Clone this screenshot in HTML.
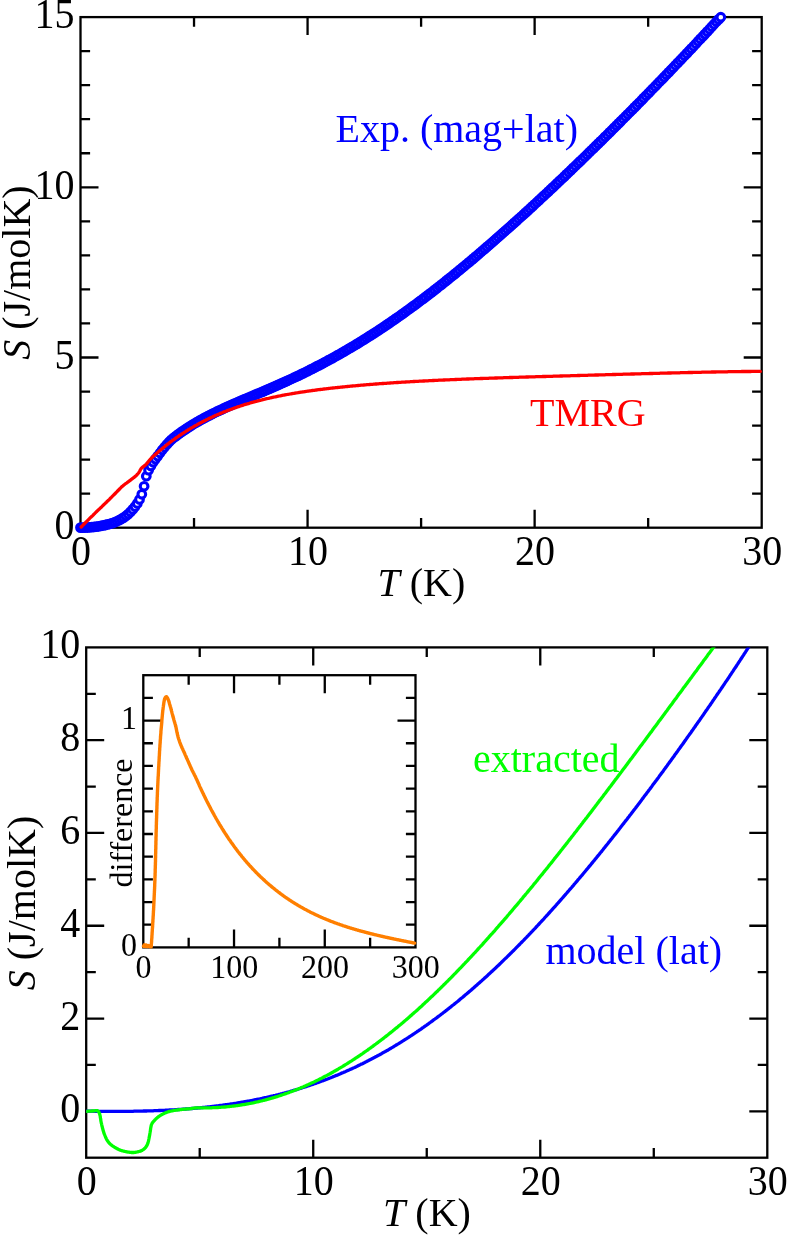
<!DOCTYPE html>
<html><head><meta charset="utf-8"><title>S(T)</title>
<style>html,body{margin:0;padding:0;background:#fff;}svg{display:block;will-change:transform;}body{font-family:"Liberation Serif",serif;}</style></head>
<body>
<svg width="789" height="1237" viewBox="0 0 789 1237" font-family="'Liberation Serif', serif" font-size="40" fill="#000">
<rect width="789" height="1237" fill="#fff"/>
<rect x="80.50" y="17.10" width="681.20" height="510.60" fill="none" stroke="#000" stroke-width="2.3"/>
<path d="M307.57,527.70v-18.00M307.57,17.10v18.00M534.63,527.70v-18.00M534.63,17.10v18.00M194.03,527.70v-9.60M194.03,17.10v9.60M421.10,527.70v-9.60M421.10,17.10v9.60M648.17,527.70v-9.60M648.17,17.10v9.60M80.50,357.50h18.00M761.70,357.50h-18.00M80.50,187.30h18.00M761.70,187.30h-18.00M80.50,493.66h9.60M761.70,493.66h-9.60M80.50,459.62h9.60M761.70,459.62h-9.60M80.50,425.58h9.60M761.70,425.58h-9.60M80.50,391.54h9.60M761.70,391.54h-9.60M80.50,323.46h9.60M761.70,323.46h-9.60M80.50,289.42h9.60M761.70,289.42h-9.60M80.50,255.38h9.60M761.70,255.38h-9.60M80.50,221.34h9.60M761.70,221.34h-9.60M80.50,153.26h9.60M761.70,153.26h-9.60M80.50,119.22h9.60M761.70,119.22h-9.60M80.50,85.18h9.60M761.70,85.18h-9.60M80.50,51.14h9.60M761.70,51.14h-9.60" stroke="#000" stroke-width="2.3" fill="none"/>
<g fill="#fff" stroke="#00f" stroke-width="3.1"><circle cx="80.5" cy="527.6" r="3.85"/><circle cx="82.8" cy="527.6" r="3.85"/><circle cx="85.0" cy="527.5" r="3.85"/><circle cx="87.3" cy="527.5" r="3.85"/><circle cx="89.6" cy="527.3" r="3.85"/><circle cx="91.9" cy="527.1" r="3.85"/><circle cx="94.1" cy="526.9" r="3.85"/><circle cx="96.4" cy="526.6" r="3.85"/><circle cx="98.7" cy="526.3" r="3.85"/><circle cx="100.9" cy="525.9" r="3.85"/><circle cx="103.2" cy="525.4" r="3.85"/><circle cx="105.5" cy="525.0" r="3.85"/><circle cx="107.7" cy="524.4" r="3.85"/><circle cx="110.0" cy="523.8" r="3.85"/><circle cx="112.3" cy="523.1" r="3.85"/><circle cx="114.6" cy="522.3" r="3.85"/><circle cx="116.8" cy="521.3" r="3.85"/><circle cx="119.1" cy="520.2" r="3.85"/><circle cx="121.4" cy="519.0" r="3.85"/><circle cx="123.6" cy="517.6" r="3.85"/><circle cx="125.9" cy="516.0" r="3.85"/><circle cx="128.2" cy="514.1" r="3.85"/><circle cx="130.5" cy="511.9" r="3.85"/><circle cx="132.7" cy="509.4" r="3.85"/><circle cx="135.0" cy="506.6" r="3.85"/><circle cx="137.3" cy="503.4" r="3.85"/><circle cx="139.5" cy="499.5" r="3.85"/><circle cx="141.8" cy="494.3" r="3.85"/><circle cx="144.1" cy="486.3" r="3.85"/><circle cx="146.3" cy="476.2" r="3.85"/><circle cx="148.6" cy="470.2" r="3.85"/><circle cx="150.9" cy="466.0" r="3.85"/><circle cx="153.2" cy="462.3" r="3.85"/><circle cx="155.4" cy="459.1" r="3.85"/><circle cx="157.7" cy="456.1" r="3.85"/><circle cx="160.0" cy="453.0" r="3.85"/><circle cx="162.2" cy="450.0" r="3.85"/><circle cx="164.5" cy="447.2" r="3.85"/><circle cx="166.8" cy="444.5" r="3.85"/><circle cx="169.1" cy="442.0" r="3.85"/><circle cx="171.3" cy="439.8" r="3.85"/><circle cx="173.6" cy="437.8" r="3.85"/><circle cx="175.9" cy="436.1" r="3.85"/><circle cx="178.1" cy="434.4" r="3.85"/><circle cx="180.4" cy="432.7" r="3.85"/><circle cx="182.7" cy="431.1" r="3.85"/><circle cx="185.0" cy="429.6" r="3.85"/><circle cx="187.2" cy="428.1" r="3.85"/><circle cx="189.5" cy="426.6" r="3.85"/><circle cx="191.8" cy="425.2" r="3.85"/><circle cx="194.0" cy="423.8" r="3.85"/><circle cx="196.3" cy="422.5" r="3.85"/><circle cx="198.6" cy="421.2" r="3.85"/><circle cx="200.8" cy="419.9" r="3.85"/><circle cx="203.1" cy="418.7" r="3.85"/><circle cx="205.4" cy="417.4" r="3.85"/><circle cx="207.7" cy="416.2" r="3.85"/><circle cx="209.9" cy="415.1" r="3.85"/><circle cx="212.2" cy="413.9" r="3.85"/><circle cx="214.5" cy="412.8" r="3.85"/><circle cx="216.7" cy="411.7" r="3.85"/><circle cx="219.0" cy="410.6" r="3.85"/><circle cx="221.3" cy="409.6" r="3.85"/><circle cx="223.6" cy="408.5" r="3.85"/><circle cx="225.8" cy="407.5" r="3.85"/><circle cx="228.1" cy="406.4" r="3.85"/><circle cx="230.4" cy="405.4" r="3.85"/><circle cx="232.6" cy="404.4" r="3.85"/><circle cx="234.9" cy="403.4" r="3.85"/><circle cx="237.2" cy="402.5" r="3.85"/><circle cx="239.4" cy="401.5" r="3.85"/><circle cx="241.7" cy="400.5" r="3.85"/><circle cx="244.0" cy="399.5" r="3.85"/><circle cx="246.3" cy="398.6" r="3.85"/><circle cx="248.5" cy="397.6" r="3.85"/><circle cx="250.8" cy="396.7" r="3.85"/><circle cx="253.1" cy="395.7" r="3.85"/><circle cx="255.3" cy="394.7" r="3.85"/><circle cx="257.6" cy="393.8" r="3.85"/><circle cx="259.9" cy="392.8" r="3.85"/><circle cx="262.2" cy="391.9" r="3.85"/><circle cx="264.4" cy="390.9" r="3.85"/><circle cx="266.7" cy="389.9" r="3.85"/><circle cx="269.0" cy="388.9" r="3.85"/><circle cx="271.2" cy="388.0" r="3.85"/><circle cx="273.5" cy="387.0" r="3.85"/><circle cx="275.8" cy="386.0" r="3.85"/><circle cx="278.0" cy="385.0" r="3.85"/><circle cx="280.3" cy="384.0" r="3.85"/><circle cx="282.6" cy="382.9" r="3.85"/><circle cx="284.9" cy="381.9" r="3.85"/><circle cx="287.1" cy="380.9" r="3.85"/><circle cx="289.4" cy="379.8" r="3.85"/><circle cx="291.7" cy="378.8" r="3.85"/><circle cx="293.9" cy="377.7" r="3.85"/><circle cx="296.2" cy="376.7" r="3.85"/><circle cx="298.5" cy="375.6" r="3.85"/><circle cx="300.8" cy="374.5" r="3.85"/><circle cx="303.0" cy="373.4" r="3.85"/><circle cx="305.3" cy="372.3" r="3.85"/><circle cx="307.6" cy="371.1" r="3.85"/><circle cx="309.8" cy="370.0" r="3.85"/><circle cx="312.1" cy="368.9" r="3.85"/><circle cx="314.4" cy="367.7" r="3.85"/><circle cx="316.6" cy="366.5" r="3.85"/><circle cx="318.9" cy="365.4" r="3.85"/><circle cx="321.2" cy="364.2" r="3.85"/><circle cx="323.5" cy="363.0" r="3.85"/><circle cx="325.7" cy="361.8" r="3.85"/><circle cx="328.0" cy="360.5" r="3.85"/><circle cx="330.3" cy="359.3" r="3.85"/><circle cx="332.5" cy="358.1" r="3.85"/><circle cx="334.8" cy="356.8" r="3.85"/><circle cx="337.1" cy="355.5" r="3.85"/><circle cx="339.4" cy="354.3" r="3.85"/><circle cx="341.6" cy="353.0" r="3.85"/><circle cx="343.9" cy="351.7" r="3.85"/><circle cx="346.2" cy="350.3" r="3.85"/><circle cx="348.4" cy="349.0" r="3.85"/><circle cx="350.7" cy="347.7" r="3.85"/><circle cx="353.0" cy="346.3" r="3.85"/><circle cx="355.3" cy="345.0" r="3.85"/><circle cx="357.5" cy="343.6" r="3.85"/><circle cx="359.8" cy="342.2" r="3.85"/><circle cx="362.1" cy="340.8" r="3.85"/><circle cx="364.3" cy="339.4" r="3.85"/><circle cx="366.6" cy="338.0" r="3.85"/><circle cx="368.9" cy="336.5" r="3.85"/><circle cx="371.1" cy="335.1" r="3.85"/><circle cx="373.4" cy="333.6" r="3.85"/><circle cx="375.7" cy="332.2" r="3.85"/><circle cx="378.0" cy="330.7" r="3.85"/><circle cx="380.2" cy="329.2" r="3.85"/><circle cx="382.5" cy="327.7" r="3.85"/><circle cx="384.8" cy="326.2" r="3.85"/><circle cx="387.0" cy="324.6" r="3.85"/><circle cx="389.3" cy="323.1" r="3.85"/><circle cx="391.6" cy="321.5" r="3.85"/><circle cx="393.9" cy="320.0" r="3.85"/><circle cx="396.1" cy="318.4" r="3.85"/><circle cx="398.4" cy="316.8" r="3.85"/><circle cx="400.7" cy="315.2" r="3.85"/><circle cx="402.9" cy="313.6" r="3.85"/><circle cx="405.2" cy="312.0" r="3.85"/><circle cx="407.5" cy="310.3" r="3.85"/><circle cx="409.7" cy="308.7" r="3.85"/><circle cx="412.0" cy="307.0" r="3.85"/><circle cx="414.3" cy="305.4" r="3.85"/><circle cx="416.6" cy="303.7" r="3.85"/><circle cx="418.8" cy="302.0" r="3.85"/><circle cx="421.1" cy="300.3" r="3.85"/><circle cx="423.4" cy="298.6" r="3.85"/><circle cx="425.6" cy="296.9" r="3.85"/><circle cx="427.9" cy="295.1" r="3.85"/><circle cx="430.2" cy="293.4" r="3.85"/><circle cx="432.5" cy="291.7" r="3.85"/><circle cx="434.7" cy="289.9" r="3.85"/><circle cx="437.0" cy="288.1" r="3.85"/><circle cx="439.3" cy="286.3" r="3.85"/><circle cx="441.5" cy="284.6" r="3.85"/><circle cx="443.8" cy="282.8" r="3.85"/><circle cx="446.1" cy="280.9" r="3.85"/><circle cx="448.3" cy="279.1" r="3.85"/><circle cx="450.6" cy="277.3" r="3.85"/><circle cx="452.9" cy="275.5" r="3.85"/><circle cx="455.2" cy="273.6" r="3.85"/><circle cx="457.4" cy="271.8" r="3.85"/><circle cx="459.7" cy="269.9" r="3.85"/><circle cx="462.0" cy="268.0" r="3.85"/><circle cx="464.2" cy="266.2" r="3.85"/><circle cx="466.5" cy="264.3" r="3.85"/><circle cx="468.8" cy="262.4" r="3.85"/><circle cx="471.1" cy="260.5" r="3.85"/><circle cx="473.3" cy="258.6" r="3.85"/><circle cx="475.6" cy="256.6" r="3.85"/><circle cx="477.9" cy="254.7" r="3.85"/><circle cx="480.1" cy="252.8" r="3.85"/><circle cx="482.4" cy="250.8" r="3.85"/><circle cx="484.7" cy="248.9" r="3.85"/><circle cx="486.9" cy="246.9" r="3.85"/><circle cx="489.2" cy="245.0" r="3.85"/><circle cx="491.5" cy="243.0" r="3.85"/><circle cx="493.8" cy="241.0" r="3.85"/><circle cx="496.0" cy="239.0" r="3.85"/><circle cx="498.3" cy="237.0" r="3.85"/><circle cx="500.6" cy="235.0" r="3.85"/><circle cx="502.8" cy="233.0" r="3.85"/><circle cx="505.1" cy="231.0" r="3.85"/><circle cx="507.4" cy="229.0" r="3.85"/><circle cx="509.7" cy="227.0" r="3.85"/><circle cx="511.9" cy="225.0" r="3.85"/><circle cx="514.2" cy="222.9" r="3.85"/><circle cx="516.5" cy="220.9" r="3.85"/><circle cx="518.7" cy="218.8" r="3.85"/><circle cx="521.0" cy="216.8" r="3.85"/><circle cx="523.3" cy="214.7" r="3.85"/><circle cx="525.6" cy="212.6" r="3.85"/><circle cx="527.8" cy="210.6" r="3.85"/><circle cx="530.1" cy="208.5" r="3.85"/><circle cx="532.4" cy="206.4" r="3.85"/><circle cx="534.6" cy="204.3" r="3.85"/><circle cx="536.9" cy="202.2" r="3.85"/><circle cx="539.2" cy="200.1" r="3.85"/><circle cx="541.4" cy="198.0" r="3.85"/><circle cx="543.7" cy="195.9" r="3.85"/><circle cx="546.0" cy="193.8" r="3.85"/><circle cx="548.3" cy="191.6" r="3.85"/><circle cx="550.5" cy="189.5" r="3.85"/><circle cx="552.8" cy="187.4" r="3.85"/><circle cx="555.1" cy="185.2" r="3.85"/><circle cx="557.3" cy="183.1" r="3.85"/><circle cx="559.6" cy="180.9" r="3.85"/><circle cx="561.9" cy="178.8" r="3.85"/><circle cx="564.2" cy="176.6" r="3.85"/><circle cx="566.4" cy="174.4" r="3.85"/><circle cx="568.7" cy="172.3" r="3.85"/><circle cx="571.0" cy="170.1" r="3.85"/><circle cx="573.2" cy="167.9" r="3.85"/><circle cx="575.5" cy="165.7" r="3.85"/><circle cx="577.8" cy="163.5" r="3.85"/><circle cx="580.0" cy="161.4" r="3.85"/><circle cx="582.3" cy="159.2" r="3.85"/><circle cx="584.6" cy="157.0" r="3.85"/><circle cx="586.9" cy="154.7" r="3.85"/><circle cx="589.1" cy="152.5" r="3.85"/><circle cx="591.4" cy="150.3" r="3.85"/><circle cx="593.7" cy="148.1" r="3.85"/><circle cx="595.9" cy="145.9" r="3.85"/><circle cx="598.2" cy="143.6" r="3.85"/><circle cx="600.5" cy="141.4" r="3.85"/><circle cx="602.8" cy="139.2" r="3.85"/><circle cx="605.0" cy="136.9" r="3.85"/><circle cx="607.3" cy="134.7" r="3.85"/><circle cx="609.6" cy="132.4" r="3.85"/><circle cx="611.8" cy="130.2" r="3.85"/><circle cx="614.1" cy="127.9" r="3.85"/><circle cx="616.4" cy="125.6" r="3.85"/><circle cx="618.6" cy="123.4" r="3.85"/><circle cx="620.9" cy="121.1" r="3.85"/><circle cx="623.2" cy="118.8" r="3.85"/><circle cx="625.5" cy="116.5" r="3.85"/><circle cx="627.7" cy="114.3" r="3.85"/><circle cx="630.0" cy="112.0" r="3.85"/><circle cx="632.3" cy="109.7" r="3.85"/><circle cx="634.5" cy="107.4" r="3.85"/><circle cx="636.8" cy="105.1" r="3.85"/><circle cx="639.1" cy="102.8" r="3.85"/><circle cx="641.4" cy="100.5" r="3.85"/><circle cx="643.6" cy="98.1" r="3.85"/><circle cx="645.9" cy="95.8" r="3.85"/><circle cx="648.2" cy="93.5" r="3.85"/><circle cx="650.4" cy="91.2" r="3.85"/><circle cx="652.7" cy="88.8" r="3.85"/><circle cx="655.0" cy="86.5" r="3.85"/><circle cx="657.2" cy="84.2" r="3.85"/><circle cx="659.5" cy="81.8" r="3.85"/><circle cx="661.8" cy="79.5" r="3.85"/><circle cx="664.1" cy="77.1" r="3.85"/><circle cx="666.3" cy="74.8" r="3.85"/><circle cx="668.6" cy="72.4" r="3.85"/><circle cx="670.9" cy="70.0" r="3.85"/><circle cx="673.1" cy="67.7" r="3.85"/><circle cx="675.4" cy="65.3" r="3.85"/><circle cx="677.7" cy="62.9" r="3.85"/><circle cx="680.0" cy="60.5" r="3.85"/><circle cx="682.2" cy="58.2" r="3.85"/><circle cx="684.5" cy="55.8" r="3.85"/><circle cx="686.8" cy="53.4" r="3.85"/><circle cx="689.0" cy="51.0" r="3.85"/><circle cx="691.3" cy="48.6" r="3.85"/><circle cx="693.6" cy="46.2" r="3.85"/><circle cx="695.9" cy="43.8" r="3.85"/><circle cx="698.1" cy="41.3" r="3.85"/><circle cx="700.4" cy="38.9" r="3.85"/><circle cx="702.7" cy="36.5" r="3.85"/><circle cx="704.9" cy="34.1" r="3.85"/><circle cx="707.2" cy="31.6" r="3.85"/><circle cx="709.5" cy="29.2" r="3.85"/><circle cx="711.7" cy="26.7" r="3.85"/><circle cx="714.0" cy="24.3" r="3.85"/><circle cx="716.3" cy="21.8" r="3.85"/><circle cx="718.6" cy="19.4" r="3.85"/><circle cx="720.8" cy="17.2" r="3.85"/></g>
<path d="M81.2,527.0 L82.2,526.0 L83.1,525.0 L84.1,524.0 L85.1,523.0 L86.1,522.1 L87.0,521.1 L88.0,520.1 L89.0,519.1 L89.9,518.2 L90.9,517.2 L91.9,516.3 L92.9,515.3 L93.8,514.3 L94.8,513.4 L95.8,512.4 L96.7,511.5 L97.7,510.6 L98.7,509.6 L99.7,508.7 L100.6,507.8 L101.6,506.9 L102.6,505.9 L103.5,505.0 L104.5,504.1 L105.5,503.1 L106.5,502.2 L107.4,501.2 L108.4,500.3 L109.4,499.3 L110.3,498.3 L111.3,497.4 L112.3,496.4 L113.3,495.4 L114.2,494.5 L115.2,493.5 L116.2,492.5 L117.1,491.5 L118.1,490.5 L119.1,489.5 L120.1,488.5 L121.0,487.5 L122.0,486.6 L123.0,485.8 L123.9,485.0 L124.9,484.2 L125.9,483.5 L126.9,482.8 L127.8,482.1 L128.8,481.4 L129.8,480.7 L130.7,479.9 L131.7,479.2 L132.7,478.4 L133.7,477.7 L134.6,476.9 L135.6,476.1 L136.6,475.2 L137.5,474.2 L138.5,473.0 L139.5,471.6 L140.5,469.6 L141.4,468.2 L142.4,467.4 L143.4,466.6 L144.3,465.9 L145.3,465.1 L146.3,464.1 L147.3,462.9 L148.2,461.7 L149.2,460.5 L150.2,459.4 L151.2,458.3 L152.1,457.4 L153.1,456.5 L154.1,455.6 L155.0,454.7 L156.0,453.9 L157.0,453.0 L158.0,452.2 L158.9,451.3 L159.9,450.5 L160.9,449.7 L161.8,448.9 L162.8,448.1 L163.8,447.3 L164.8,446.5 L165.7,445.7 L166.7,444.9 L167.7,444.2 L168.6,443.4 L169.6,442.7 L170.6,441.9 L171.6,441.2 L172.5,440.5 L173.5,439.8 L174.5,439.1 L175.4,438.4 L176.4,437.7 L177.4,437.0 L178.4,436.3 L179.3,435.7 L180.3,435.0 L181.3,434.4 L182.2,433.7 L183.2,433.1 L184.2,432.4 L185.2,431.8 L186.1,431.2 L187.1,430.6 L188.1,430.0 L189.0,429.4 L190.0,428.8 L191.0,428.2 L192.0,427.6 L192.9,427.1 L193.9,426.5 L194.9,425.9 L195.8,425.4 L196.8,424.9 L197.8,424.3 L198.8,423.8 L199.7,423.3 L200.7,422.7 L201.7,422.2 L202.6,421.7 L203.6,421.2 L204.6,420.7 L205.6,420.2 L206.5,419.7 L207.5,419.3 L208.5,418.8 L209.4,418.3 L210.4,417.9 L211.4,417.4 L212.4,417.0 L213.3,416.5 L214.3,416.1 L215.3,415.6 L216.2,415.2 L217.2,414.8 L218.2,414.4 L219.2,413.9 L220.1,413.5 L221.1,413.1 L222.1,412.7 L223.0,412.3 L224.0,411.9 L225.0,411.6 L226.0,411.2 L226.9,410.8 L227.9,410.4 L228.9,410.1 L229.8,409.7 L230.8,409.3 L231.8,409.0 L232.8,408.6 L233.7,408.3 L234.7,407.9 L235.7,407.6 L236.6,407.3 L237.6,406.9 L238.6,406.6 L239.6,406.3 L240.5,406.0 L241.5,405.7 L242.5,405.4 L243.4,405.0 L244.4,404.7 L245.4,404.4 L246.4,404.1 L247.3,403.9 L248.3,403.6 L249.3,403.3 L250.2,403.0 L251.2,402.7 L252.2,402.4 L253.2,402.2 L254.1,401.9 L255.1,401.6 L256.1,401.4 L257.0,401.1 L258.0,400.9 L259.0,400.6 L260.0,400.4 L260.9,400.1 L261.9,399.9 L262.9,399.6 L263.8,399.4 L264.8,399.2 L265.8,398.9 L266.8,398.7 L267.7,398.5 L268.7,398.3 L269.7,398.0 L270.6,397.8 L271.6,397.6 L272.6,397.4 L273.6,397.2 L274.5,397.0 L275.5,396.8 L276.5,396.6 L277.4,396.4 L278.4,396.2 L279.4,396.0 L280.4,395.8 L281.3,395.6 L282.3,395.4 L283.3,395.2 L284.2,395.0 L285.2,394.9 L286.2,394.7 L287.2,394.5 L288.1,394.3 L289.1,394.2 L290.1,394.0 L291.1,393.8 L292.0,393.6 L293.0,393.5 L294.0,393.3 L294.9,393.1 L295.9,393.0 L296.9,392.8 L297.9,392.7 L298.8,392.5 L299.8,392.4 L300.8,392.2 L301.7,392.1 L302.7,391.9 L303.7,391.8 L304.7,391.6 L305.6,391.5 L306.6,391.3 L307.6,391.2 L308.5,391.1 L309.5,390.9 L310.5,390.8 L311.5,390.6 L312.4,390.5 L313.4,390.4 L314.4,390.3 L315.3,390.1 L316.3,390.0 L317.3,389.9 L318.3,389.7 L319.2,389.6 L320.2,389.5 L321.2,389.4 L322.1,389.3 L323.1,389.1 L324.1,389.0 L325.1,388.9 L326.0,388.8 L327.0,388.7 L328.0,388.6 L328.9,388.4 L329.9,388.3 L330.9,388.2 L331.9,388.1 L332.8,388.0 L333.8,387.9 L334.8,387.8 L335.7,387.7 L336.7,387.6 L337.7,387.5 L338.7,387.4 L339.6,387.3 L340.6,387.2 L341.6,387.1 L342.5,387.0 L343.5,386.9 L344.5,386.8 L345.5,386.7 L346.4,386.6 L347.4,386.5 L348.4,386.4 L349.3,386.3 L350.3,386.2 L351.3,386.1 L352.3,386.0 L353.2,385.9 L354.2,385.8 L355.2,385.8 L356.1,385.7 L357.1,385.6 L358.1,385.5 L359.1,385.4 L360.0,385.3 L361.0,385.2 L362.0,385.1 L362.9,385.1 L363.9,385.0 L364.9,384.9 L365.9,384.8 L366.8,384.7 L367.8,384.7 L368.8,384.6 L369.7,384.5 L370.7,384.4 L371.7,384.3 L372.7,384.3 L373.6,384.2 L374.6,384.1 L375.6,384.0 L376.5,384.0 L377.5,383.9 L378.5,383.8 L379.5,383.7 L380.4,383.7 L381.4,383.6 L382.4,383.5 L383.3,383.5 L384.3,383.4 L385.3,383.3 L386.3,383.3 L387.2,383.2 L388.2,383.1 L389.2,383.1 L390.1,383.0 L391.1,382.9 L392.1,382.9 L393.1,382.8 L394.0,382.7 L395.0,382.7 L396.0,382.6 L396.9,382.5 L397.9,382.5 L398.9,382.4 L399.9,382.4 L400.8,382.3 L401.8,382.2 L402.8,382.2 L403.7,382.1 L404.7,382.1 L405.7,382.0 L406.7,381.9 L407.6,381.9 L408.6,381.8 L409.6,381.8 L410.5,381.7 L411.5,381.7 L412.5,381.6 L413.5,381.5 L414.4,381.5 L415.4,381.4 L416.4,381.4 L417.3,381.3 L418.3,381.3 L419.3,381.2 L420.3,381.2 L421.2,381.1 L422.2,381.1 L423.2,381.0 L424.2,381.0 L425.1,380.9 L426.1,380.9 L427.1,380.8 L428.0,380.8 L429.0,380.7 L430.0,380.7 L431.0,380.6 L431.9,380.6 L432.9,380.5 L433.9,380.5 L434.8,380.4 L435.8,380.4 L436.8,380.3 L437.8,380.3 L438.7,380.2 L439.7,380.2 L440.7,380.2 L441.6,380.1 L442.6,380.1 L443.6,380.0 L444.6,380.0 L445.5,379.9 L446.5,379.9 L447.5,379.8 L448.4,379.8 L449.4,379.8 L450.4,379.7 L451.4,379.7 L452.3,379.6 L453.3,379.6 L454.3,379.6 L455.2,379.5 L456.2,379.5 L457.2,379.4 L458.2,379.4 L459.1,379.4 L460.1,379.3 L461.1,379.3 L462.0,379.2 L463.0,379.2 L464.0,379.2 L465.0,379.1 L465.9,379.1 L466.9,379.0 L467.9,379.0 L468.8,379.0 L469.8,378.9 L470.8,378.9 L471.8,378.9 L472.7,378.8 L473.7,378.8 L474.7,378.7 L475.6,378.7 L476.6,378.7 L477.6,378.6 L478.6,378.6 L479.5,378.6 L480.5,378.5 L481.5,378.5 L482.4,378.5 L483.4,378.4 L484.4,378.4 L485.4,378.4 L486.3,378.3 L487.3,378.3 L488.3,378.3 L489.2,378.2 L490.2,378.2 L491.2,378.2 L492.2,378.1 L493.1,378.1 L494.1,378.1 L495.1,378.0 L496.0,378.0 L497.0,378.0 L498.0,377.9 L499.0,377.9 L499.9,377.9 L500.9,377.8 L501.9,377.8 L502.8,377.8 L503.8,377.7 L504.8,377.7 L505.8,377.7 L506.7,377.6 L507.7,377.6 L508.7,377.6 L509.6,377.5 L510.6,377.5 L511.6,377.5 L512.6,377.5 L513.5,377.4 L514.5,377.4 L515.5,377.4 L516.4,377.3 L517.4,377.3 L518.4,377.3 L519.4,377.2 L520.3,377.2 L521.3,377.2 L522.3,377.2 L523.2,377.1 L524.2,377.1 L525.2,377.1 L526.2,377.0 L527.1,377.0 L528.1,377.0 L529.1,376.9 L530.0,376.9 L531.0,376.9 L532.0,376.9 L533.0,376.8 L533.9,376.8 L534.9,376.8 L535.9,376.7 L536.8,376.7 L537.8,376.7 L538.8,376.7 L539.8,376.6 L540.7,376.6 L541.7,376.6 L542.7,376.5 L543.6,376.5 L544.6,376.5 L545.6,376.5 L546.6,376.4 L547.5,376.4 L548.5,376.4 L549.5,376.3 L550.4,376.3 L551.4,376.3 L552.4,376.3 L553.4,376.2 L554.3,376.2 L555.3,376.2 L556.3,376.1 L557.3,376.1 L558.2,376.1 L559.2,376.1 L560.2,376.0 L561.1,376.0 L562.1,376.0 L563.1,375.9 L564.1,375.9 L565.0,375.9 L566.0,375.9 L567.0,375.8 L567.9,375.8 L568.9,375.8 L569.9,375.8 L570.9,375.7 L571.8,375.7 L572.8,375.7 L573.8,375.6 L574.7,375.6 L575.7,375.6 L576.7,375.6 L577.7,375.5 L578.6,375.5 L579.6,375.5 L580.6,375.4 L581.5,375.4 L582.5,375.4 L583.5,375.4 L584.5,375.3 L585.4,375.3 L586.4,375.3 L587.4,375.3 L588.3,375.2 L589.3,375.2 L590.3,375.2 L591.3,375.1 L592.2,375.1 L593.2,375.1 L594.2,375.1 L595.1,375.0 L596.1,375.0 L597.1,375.0 L598.1,375.0 L599.0,374.9 L600.0,374.9 L601.0,374.9 L601.9,374.8 L602.9,374.8 L603.9,374.8 L604.9,374.8 L605.8,374.7 L606.8,374.7 L607.8,374.7 L608.7,374.7 L609.7,374.6 L610.7,374.6 L611.7,374.6 L612.6,374.5 L613.6,374.5 L614.6,374.5 L615.5,374.5 L616.5,374.4 L617.5,374.4 L618.5,374.4 L619.4,374.4 L620.4,374.3 L621.4,374.3 L622.3,374.3 L623.3,374.2 L624.3,374.2 L625.3,374.2 L626.2,374.2 L627.2,374.1 L628.2,374.1 L629.1,374.1 L630.1,374.1 L631.1,374.0 L632.1,374.0 L633.0,374.0 L634.0,374.0 L635.0,373.9 L635.9,373.9 L636.9,373.9 L637.9,373.8 L638.9,373.8 L639.8,373.8 L640.8,373.8 L641.8,373.7 L642.7,373.7 L643.7,373.7 L644.7,373.7 L645.7,373.6 L646.6,373.6 L647.6,373.6 L648.6,373.6 L649.5,373.5 L650.5,373.5 L651.5,373.5 L652.5,373.5 L653.4,373.4 L654.4,373.4 L655.4,373.4 L656.3,373.4 L657.3,373.3 L658.3,373.3 L659.3,373.3 L660.2,373.2 L661.2,373.2 L662.2,373.2 L663.1,373.2 L664.1,373.1 L665.1,373.1 L666.1,373.1 L667.0,373.1 L668.0,373.0 L669.0,373.0 L669.9,373.0 L670.9,373.0 L671.9,372.9 L672.9,372.9 L673.8,372.9 L674.8,372.9 L675.8,372.9 L676.7,372.8 L677.7,372.8 L678.7,372.8 L679.7,372.8 L680.6,372.7 L681.6,372.7 L682.6,372.7 L683.5,372.7 L684.5,372.6 L685.5,372.6 L686.5,372.6 L687.4,372.6 L688.4,372.5 L689.4,372.5 L690.3,372.5 L691.3,372.5 L692.3,372.5 L693.3,372.4 L694.2,372.4 L695.2,372.4 L696.2,372.4 L697.2,372.3 L698.1,372.3 L699.1,372.3 L700.1,372.3 L701.0,372.3 L702.0,372.2 L703.0,372.2 L704.0,372.2 L704.9,372.2 L705.9,372.2 L706.9,372.1 L707.8,372.1 L708.8,372.1 L709.8,372.1 L710.8,372.1 L711.7,372.0 L712.7,372.0 L713.7,372.0 L714.6,372.0 L715.6,372.0 L716.6,371.9 L717.6,371.9 L718.5,371.9 L719.5,371.9 L720.5,371.9 L721.4,371.9 L722.4,371.8 L723.4,371.8 L724.4,371.8 L725.3,371.8 L726.3,371.8 L727.3,371.8 L728.2,371.7 L729.2,371.7 L730.2,371.7 L731.2,371.7 L732.1,371.7 L733.1,371.7 L734.1,371.7 L735.0,371.6 L736.0,371.6 L737.0,371.6 L738.0,371.6 L738.9,371.6 L739.9,371.6 L740.9,371.6 L741.8,371.5 L742.8,371.5 L743.8,371.5 L744.8,371.5 L745.7,371.5 L746.7,371.5 L747.7,371.5 L748.6,371.5 L749.6,371.5 L750.6,371.5 L751.6,371.4 L752.5,371.4 L753.5,371.4 L754.5,371.4 L755.4,371.4 L756.4,371.4 L757.4,371.4 L758.4,371.4 L759.3,371.4 L760.3,371.4" fill="none" stroke="#f00" stroke-width="3.3" stroke-linejoin="round" stroke-linecap="round"/>
<rect x="86.20" y="647.40" width="681.10" height="510.30" fill="none" stroke="#000" stroke-width="2.3"/>
<path d="M313.23,1157.70v-18.00M313.23,647.40v18.00M540.27,1157.70v-18.00M540.27,647.40v18.00M199.72,1157.70v-9.60M199.72,647.40v9.60M426.75,1157.70v-9.60M426.75,647.40v9.60M653.78,1157.70v-9.60M653.78,647.40v9.60M86.20,1111.31h18.00M767.30,1111.31h-18.00M86.20,1018.53h18.00M767.30,1018.53h-18.00M86.20,925.75h18.00M767.30,925.75h-18.00M86.20,832.96h18.00M767.30,832.96h-18.00M86.20,740.18h18.00M767.30,740.18h-18.00M86.20,1064.92h9.60M767.30,1064.92h-9.60M86.20,972.14h9.60M767.30,972.14h-9.60M86.20,879.35h9.60M767.30,879.35h-9.60M86.20,786.57h9.60M767.30,786.57h-9.60M86.20,693.79h9.60M767.30,693.79h-9.60" stroke="#000" stroke-width="2.3" fill="none"/>
<clipPath id="cb"><rect x="86.2" y="647.4" width="681.0999999999999" height="510.30000000000007"/></clipPath>
<g clip-path="url(#cb)" fill="none" stroke-width="3.3" stroke-linejoin="round" stroke-linecap="round">
<path d="M86.3,1111.1 L87.3,1111.1 L88.2,1111.1 L89.2,1111.2 L90.1,1111.2 L91.1,1111.2 L92.0,1111.2 L93.0,1111.2 L93.9,1111.2 L94.9,1111.2 L95.9,1111.3 L96.8,1111.3 L97.8,1111.3 L98.7,1111.3 L99.7,1111.3 L100.6,1111.3 L101.6,1111.3 L102.5,1111.3 L103.5,1111.3 L104.4,1111.4 L105.4,1111.4 L106.4,1111.4 L107.3,1111.4 L108.3,1111.4 L109.2,1111.4 L110.2,1111.4 L111.1,1111.4 L112.1,1111.4 L113.0,1111.4 L114.0,1111.4 L115.0,1111.4 L115.9,1111.4 L116.9,1111.4 L117.8,1111.4 L118.8,1111.4 L119.7,1111.4 L120.7,1111.4 L121.6,1111.4 L122.6,1111.4 L123.6,1111.4 L124.5,1111.4 L125.5,1111.4 L126.4,1111.3 L127.4,1111.3 L128.3,1111.3 L129.3,1111.3 L130.2,1111.3 L131.2,1111.3 L132.2,1111.3 L133.1,1111.3 L134.1,1111.2 L135.0,1111.2 L136.0,1111.2 L136.9,1111.2 L137.9,1111.2 L138.8,1111.2 L139.8,1111.1 L140.7,1111.1 L141.7,1111.1 L142.7,1111.1 L143.6,1111.0 L144.6,1111.0 L145.5,1111.0 L146.5,1111.0 L147.4,1110.9 L148.4,1110.9 L149.3,1110.9 L150.3,1110.9 L151.3,1110.8 L152.2,1110.8 L153.2,1110.8 L154.1,1110.7 L155.1,1110.7 L156.0,1110.6 L157.0,1110.6 L157.9,1110.6 L158.9,1110.5 L159.9,1110.5 L160.8,1110.5 L161.8,1110.4 L162.7,1110.4 L163.7,1110.3 L164.6,1110.3 L165.6,1110.2 L166.5,1110.2 L167.5,1110.1 L168.4,1110.1 L169.4,1110.0 L170.4,1110.0 L171.3,1109.9 L172.3,1109.9 L173.2,1109.8 L174.2,1109.8 L175.1,1109.7 L176.1,1109.6 L177.0,1109.6 L178.0,1109.5 L179.0,1109.5 L179.9,1109.4 L180.9,1109.3 L181.8,1109.3 L182.8,1109.2 L183.7,1109.1 L184.7,1109.1 L185.6,1109.0 L186.6,1108.9 L187.6,1108.8 L188.5,1108.8 L189.5,1108.7 L190.4,1108.6 L191.4,1108.5 L192.3,1108.5 L193.3,1108.4 L194.2,1108.3 L195.2,1108.2 L196.2,1108.1 L197.1,1108.0 L198.1,1107.9 L199.0,1107.9 L200.0,1107.8 L200.9,1107.7 L201.9,1107.6 L202.8,1107.5 L203.8,1107.4 L204.7,1107.3 L205.7,1107.2 L206.7,1107.1 L207.6,1107.0 L208.6,1106.9 L209.5,1106.8 L210.5,1106.7 L211.4,1106.6 L212.4,1106.4 L213.3,1106.3 L214.3,1106.2 L215.3,1106.1 L216.2,1106.0 L217.2,1105.9 L218.1,1105.8 L219.1,1105.6 L220.0,1105.5 L221.0,1105.4 L221.9,1105.3 L222.9,1105.1 L223.9,1105.0 L224.8,1104.9 L225.8,1104.7 L226.7,1104.6 L227.7,1104.5 L228.6,1104.3 L229.6,1104.2 L230.5,1104.0 L231.5,1103.9 L232.4,1103.8 L233.4,1103.6 L234.4,1103.5 L235.3,1103.3 L236.3,1103.2 L237.2,1103.0 L238.2,1102.9 L239.1,1102.7 L240.1,1102.5 L241.0,1102.4 L242.0,1102.2 L243.0,1102.0 L243.9,1101.9 L244.9,1101.7 L245.8,1101.5 L246.8,1101.4 L247.7,1101.2 L248.7,1101.0 L249.6,1100.8 L250.6,1100.7 L251.6,1100.5 L252.5,1100.3 L253.5,1100.1 L254.4,1099.9 L255.4,1099.7 L256.3,1099.5 L257.3,1099.4 L258.2,1099.2 L259.2,1099.0 L260.2,1098.8 L261.1,1098.6 L262.1,1098.4 L263.0,1098.1 L264.0,1097.9 L264.9,1097.7 L265.9,1097.5 L266.8,1097.3 L267.8,1097.1 L268.7,1096.9 L269.7,1096.7 L270.7,1096.4 L271.6,1096.2 L272.6,1096.0 L273.5,1095.7 L274.5,1095.5 L275.4,1095.3 L276.4,1095.0 L277.3,1094.8 L278.3,1094.6 L279.3,1094.3 L280.2,1094.1 L281.2,1093.8 L282.1,1093.6 L283.1,1093.3 L284.0,1093.1 L285.0,1092.8 L285.9,1092.6 L286.9,1092.3 L287.9,1092.0 L288.8,1091.8 L289.8,1091.5 L290.7,1091.2 L291.7,1091.0 L292.6,1090.7 L293.6,1090.4 L294.5,1090.1 L295.5,1089.9 L296.4,1089.6 L297.4,1089.3 L298.4,1089.0 L299.3,1088.7 L300.3,1088.4 L301.2,1088.1 L302.2,1087.8 L303.1,1087.5 L304.1,1087.2 L305.0,1086.9 L306.0,1086.6 L307.0,1086.3 L307.9,1086.0 L308.9,1085.7 L309.8,1085.3 L310.8,1085.0 L311.7,1084.7 L312.7,1084.4 L313.6,1084.0 L314.6,1083.7 L315.6,1083.4 L316.5,1083.0 L317.5,1082.7 L318.4,1082.4 L319.4,1082.0 L320.3,1081.7 L321.3,1081.3 L322.2,1081.0 L323.2,1080.6 L324.2,1080.2 L325.1,1079.9 L326.1,1079.5 L327.0,1079.2 L328.0,1078.8 L328.9,1078.4 L329.9,1078.0 L330.8,1077.7 L331.8,1077.3 L332.7,1076.9 L333.7,1076.5 L334.7,1076.1 L335.6,1075.7 L336.6,1075.4 L337.5,1075.0 L338.5,1074.6 L339.4,1074.2 L340.4,1073.8 L341.3,1073.3 L342.3,1072.9 L343.3,1072.5 L344.2,1072.1 L345.2,1071.7 L346.1,1071.3 L347.1,1070.8 L348.0,1070.4 L349.0,1070.0 L349.9,1069.6 L350.9,1069.1 L351.9,1068.7 L352.8,1068.2 L353.8,1067.8 L354.7,1067.4 L355.7,1066.9 L356.6,1066.5 L357.6,1066.0 L358.5,1065.5 L359.5,1065.1 L360.4,1064.6 L361.4,1064.1 L362.4,1063.7 L363.3,1063.2 L364.3,1062.7 L365.2,1062.2 L366.2,1061.8 L367.1,1061.3 L368.1,1060.8 L369.0,1060.3 L370.0,1059.8 L371.0,1059.3 L371.9,1058.8 L372.9,1058.3 L373.8,1057.8 L374.8,1057.3 L375.7,1056.8 L376.7,1056.3 L377.6,1055.8 L378.6,1055.2 L379.6,1054.7 L380.5,1054.2 L381.5,1053.7 L382.4,1053.1 L383.4,1052.6 L384.3,1052.0 L385.3,1051.5 L386.2,1051.0 L387.2,1050.4 L388.2,1049.9 L389.1,1049.3 L390.1,1048.7 L391.0,1048.2 L392.0,1047.6 L392.9,1047.1 L393.9,1046.5 L394.8,1045.9 L395.8,1045.3 L396.7,1044.8 L397.7,1044.2 L398.7,1043.6 L399.6,1043.0 L400.6,1042.4 L401.5,1041.8 L402.5,1041.2 L403.4,1040.6 L404.4,1040.0 L405.3,1039.4 L406.3,1038.8 L407.3,1038.2 L408.2,1037.6 L409.2,1036.9 L410.1,1036.3 L411.1,1035.7 L412.0,1035.1 L413.0,1034.4 L413.9,1033.8 L414.9,1033.2 L415.9,1032.5 L416.8,1031.9 L417.8,1031.2 L418.7,1030.6 L419.7,1029.9 L420.6,1029.3 L421.6,1028.6 L422.5,1027.9 L423.5,1027.3 L424.4,1026.6 L425.4,1025.9 L426.4,1025.3 L427.3,1024.6 L428.3,1023.9 L429.2,1023.2 L430.2,1022.5 L431.1,1021.8 L432.1,1021.1 L433.0,1020.4 L434.0,1019.7 L435.0,1019.0 L435.9,1018.3 L436.9,1017.6 L437.8,1016.9 L438.8,1016.2 L439.7,1015.5 L440.7,1014.7 L441.6,1014.0 L442.6,1013.3 L443.6,1012.5 L444.5,1011.8 L445.5,1011.1 L446.4,1010.3 L447.4,1009.6 L448.3,1008.8 L449.3,1008.1 L450.2,1007.3 L451.2,1006.6 L452.1,1005.8 L453.1,1005.0 L454.1,1004.3 L455.0,1003.5 L456.0,1002.7 L456.9,1002.0 L457.9,1001.2 L458.8,1000.4 L459.8,999.6 L460.7,998.8 L461.7,998.0 L462.7,997.2 L463.6,996.4 L464.6,995.6 L465.5,994.8 L466.5,994.0 L467.4,993.2 L468.4,992.4 L469.3,991.6 L470.3,990.8 L471.3,989.9 L472.2,989.1 L473.2,988.3 L474.1,987.4 L475.1,986.6 L476.0,985.8 L477.0,984.9 L477.9,984.1 L478.9,983.2 L479.9,982.4 L480.8,981.5 L481.8,980.7 L482.7,979.8 L483.7,979.0 L484.6,978.1 L485.6,977.2 L486.5,976.4 L487.5,975.5 L488.4,974.6 L489.4,973.7 L490.4,972.8 L491.3,971.9 L492.3,971.1 L493.2,970.2 L494.2,969.3 L495.1,968.4 L496.1,967.5 L497.0,966.6 L498.0,965.7 L499.0,964.8 L499.9,963.8 L500.9,962.9 L501.8,962.0 L502.8,961.1 L503.7,960.2 L504.7,959.2 L505.6,958.3 L506.6,957.4 L507.6,956.4 L508.5,955.5 L509.5,954.6 L510.4,953.6 L511.4,952.7 L512.3,951.7 L513.3,950.8 L514.2,949.8 L515.2,948.8 L516.1,947.9 L517.1,946.9 L518.1,945.9 L519.0,945.0 L520.0,944.0 L520.9,943.0 L521.9,942.0 L522.8,941.1 L523.8,940.1 L524.7,939.1 L525.7,938.1 L526.7,937.1 L527.6,936.1 L528.6,935.1 L529.5,934.1 L530.5,933.1 L531.4,932.1 L532.4,931.1 L533.3,930.1 L534.3,929.1 L535.3,928.1 L536.2,927.0 L537.2,926.0 L538.1,925.0 L539.1,924.0 L540.0,922.9 L541.0,921.9 L541.9,920.9 L542.9,919.8 L543.9,918.8 L544.8,917.7 L545.8,916.7 L546.7,915.7 L547.7,914.6 L548.6,913.5 L549.6,912.5 L550.5,911.4 L551.5,910.4 L552.4,909.3 L553.4,908.2 L554.4,907.2 L555.3,906.1 L556.3,905.0 L557.2,903.9 L558.2,902.9 L559.1,901.8 L560.1,900.7 L561.0,899.6 L562.0,898.5 L563.0,897.4 L563.9,896.3 L564.9,895.2 L565.8,894.1 L566.8,893.0 L567.7,891.9 L568.7,890.8 L569.6,889.7 L570.6,888.6 L571.6,887.5 L572.5,886.4 L573.5,885.3 L574.4,884.1 L575.4,883.0 L576.3,881.9 L577.3,880.8 L578.2,879.6 L579.2,878.5 L580.1,877.4 L581.1,876.2 L582.1,875.1 L583.0,874.0 L584.0,872.8 L584.9,871.7 L585.9,870.5 L586.8,869.4 L587.8,868.2 L588.7,867.1 L589.7,865.9 L590.7,864.8 L591.6,863.6 L592.6,862.4 L593.5,861.3 L594.5,860.1 L595.4,858.9 L596.4,857.8 L597.3,856.6 L598.3,855.4 L599.3,854.2 L600.2,853.0 L601.2,851.9 L602.1,850.7 L603.1,849.5 L604.0,848.3 L605.0,847.1 L605.9,845.9 L606.9,844.7 L607.9,843.5 L608.8,842.3 L609.8,841.1 L610.7,839.9 L611.7,838.7 L612.6,837.5 L613.6,836.3 L614.5,835.1 L615.5,833.9 L616.4,832.7 L617.4,831.4 L618.4,830.2 L619.3,829.0 L620.3,827.8 L621.2,826.6 L622.2,825.3 L623.1,824.1 L624.1,822.9 L625.0,821.6 L626.0,820.4 L627.0,819.2 L627.9,817.9 L628.9,816.7 L629.8,815.4 L630.8,814.2 L631.7,813.0 L632.7,811.7 L633.6,810.5 L634.6,809.2 L635.6,808.0 L636.5,806.7 L637.5,805.4 L638.4,804.2 L639.4,802.9 L640.3,801.7 L641.3,800.4 L642.2,799.1 L643.2,797.9 L644.1,796.6 L645.1,795.3 L646.1,794.1 L647.0,792.8 L648.0,791.5 L648.9,790.2 L649.9,789.0 L650.8,787.7 L651.8,786.4 L652.7,785.1 L653.7,783.8 L654.7,782.5 L655.6,781.3 L656.6,780.0 L657.5,778.7 L658.5,777.4 L659.4,776.1 L660.4,774.8 L661.3,773.5 L662.3,772.2 L663.3,770.9 L664.2,769.6 L665.2,768.3 L666.1,767.0 L667.1,765.7 L668.0,764.3 L669.0,763.0 L669.9,761.7 L670.9,760.4 L671.9,759.1 L672.8,757.8 L673.8,756.5 L674.7,755.1 L675.7,753.8 L676.6,752.5 L677.6,751.2 L678.5,749.8 L679.5,748.5 L680.4,747.2 L681.4,745.8 L682.4,744.5 L683.3,743.2 L684.3,741.8 L685.2,740.5 L686.2,739.1 L687.1,737.8 L688.1,736.4 L689.0,735.1 L690.0,733.7 L691.0,732.4 L691.9,731.0 L692.9,729.7 L693.8,728.3 L694.8,727.0 L695.7,725.6 L696.7,724.3 L697.6,722.9 L698.6,721.5 L699.6,720.2 L700.5,718.8 L701.5,717.4 L702.4,716.1 L703.4,714.7 L704.3,713.3 L705.3,711.9 L706.2,710.5 L707.2,709.2 L708.1,707.8 L709.1,706.4 L710.1,705.0 L711.0,703.6 L712.0,702.2 L712.9,700.8 L713.9,699.4 L714.8,698.0 L715.8,696.6 L716.7,695.2 L717.7,693.8 L718.7,692.4 L719.6,691.0 L720.6,689.6 L721.5,688.2 L722.5,686.8 L723.4,685.4 L724.4,684.0 L725.3,682.5 L726.3,681.1 L727.3,679.7 L728.2,678.3 L729.2,676.8 L730.1,675.4 L731.1,674.0 L732.0,672.5 L733.0,671.1 L733.9,669.7 L734.9,668.2 L735.9,666.8 L736.8,665.3 L737.8,663.9 L738.7,662.4 L739.7,661.0 L740.6,659.5 L741.6,658.0 L742.5,656.6 L743.5,655.1 L744.4,653.6 L745.4,652.2 L746.4,650.7 L747.3,649.2 L748.3,647.7 L749.2,646.2 L750.2,644.7 L751.1,643.3 L752.1,641.8 L753.0,640.3 L754.0,638.8" stroke="#00f"/>
<path d="M86.3,1111.3 L86.8,1111.3 L87.3,1111.3 L87.9,1111.2 L88.4,1111.2 L88.9,1111.2 L89.4,1111.2 L89.9,1111.1 L90.4,1111.1 L91.0,1111.1 L91.5,1111.0 L92.0,1111.0 L92.5,1111.0 L93.1,1110.9 L93.6,1110.9 L94.2,1110.8 L94.7,1110.8 L95.3,1110.7 L95.8,1110.7 L96.3,1110.6 L96.7,1110.6 L97.2,1110.6 L97.6,1110.7 L98.0,1111.0 L98.3,1111.4 L98.7,1111.9 L99.0,1112.4 L99.2,1112.9 L99.4,1113.4 L99.6,1113.8 L99.7,1114.3 L99.8,1114.8 L100.0,1115.2 L100.1,1115.7 L100.2,1116.2 L100.3,1116.8 L100.3,1117.3 L100.4,1117.8 L100.5,1118.3 L100.6,1118.9 L100.7,1119.4 L100.8,1119.9 L100.8,1120.5 L100.9,1121.0 L101.0,1121.5 L101.1,1122.0 L101.2,1122.5 L101.3,1123.0 L101.4,1123.5 L101.6,1124.0 L101.7,1124.6 L101.8,1125.1 L101.9,1125.6 L102.0,1126.1 L102.2,1126.6 L102.3,1127.1 L102.4,1127.6 L102.5,1128.1 L102.7,1128.6 L102.8,1129.1 L102.9,1129.6 L103.1,1130.1 L103.2,1130.6 L103.4,1131.1 L103.5,1131.6 L103.7,1132.1 L103.8,1132.6 L104.0,1133.1 L104.1,1133.6 L104.3,1134.0 L104.5,1134.5 L104.7,1135.0 L104.9,1135.5 L105.1,1136.0 L105.3,1136.5 L105.5,1137.0 L105.7,1137.4 L105.9,1137.9 L106.2,1138.4 L106.4,1138.9 L106.6,1139.3 L106.9,1139.8 L107.1,1140.2 L107.4,1140.7 L107.7,1141.1 L108.0,1141.5 L108.3,1141.9 L108.6,1142.3 L108.9,1142.7 L109.2,1143.1 L109.6,1143.4 L109.9,1143.8 L110.3,1144.1 L110.7,1144.5 L111.1,1144.8 L111.5,1145.2 L112.0,1145.5 L112.4,1145.8 L112.8,1146.1 L113.3,1146.4 L113.7,1146.7 L114.1,1147.0 L114.6,1147.2 L115.0,1147.5 L115.5,1147.8 L115.9,1148.0 L116.4,1148.3 L116.8,1148.5 L117.3,1148.8 L117.7,1149.0 L118.2,1149.3 L118.7,1149.5 L119.2,1149.7 L119.7,1149.9 L120.1,1150.1 L120.6,1150.3 L121.1,1150.5 L121.6,1150.6 L122.1,1150.8 L122.6,1150.9 L123.1,1151.0 L123.6,1151.1 L124.1,1151.3 L124.6,1151.4 L125.1,1151.5 L125.6,1151.6 L126.1,1151.7 L126.6,1151.8 L127.1,1151.9 L127.6,1152.0 L128.2,1152.1 L128.7,1152.2 L129.2,1152.2 L129.7,1152.3 L130.2,1152.4 L130.8,1152.4 L131.3,1152.5 L131.8,1152.5 L132.3,1152.5 L132.8,1152.5 L133.3,1152.5 L133.8,1152.5 L134.4,1152.4 L134.9,1152.4 L135.4,1152.3 L135.9,1152.2 L136.5,1152.1 L137.0,1152.0 L137.5,1151.9 L138.0,1151.8 L138.5,1151.6 L139.0,1151.5 L139.5,1151.4 L139.9,1151.3 L140.4,1151.1 L140.9,1150.9 L141.4,1150.7 L141.9,1150.4 L142.3,1150.2 L142.8,1149.9 L143.3,1149.6 L143.7,1149.3 L144.1,1148.9 L144.5,1148.6 L144.8,1148.3 L145.2,1147.9 L145.5,1147.6 L145.8,1147.1 L146.1,1146.7 L146.4,1146.3 L146.7,1145.8 L146.9,1145.3 L147.2,1144.9 L147.4,1144.4 L147.6,1143.9 L147.8,1143.4 L148.0,1142.9 L148.1,1142.5 L148.2,1142.0 L148.4,1141.5 L148.5,1141.0 L148.6,1140.5 L148.7,1140.0 L148.8,1139.5 L148.9,1139.0 L149.0,1138.5 L149.1,1137.9 L149.2,1137.4 L149.3,1136.9 L149.4,1136.4 L149.5,1135.9 L149.6,1135.4 L149.7,1134.8 L149.8,1134.3 L149.9,1133.8 L149.9,1133.3 L150.0,1132.8 L150.1,1132.3 L150.2,1131.7 L150.3,1131.2 L150.4,1130.7 L150.4,1130.2 L150.5,1129.6 L150.6,1129.1 L150.6,1128.6 L150.7,1128.1 L150.8,1127.6 L150.9,1127.1 L151.0,1126.6 L151.1,1126.1 L151.2,1125.6 L151.3,1125.1 L151.5,1124.6 L151.7,1124.2 L151.9,1123.7 L152.1,1123.3 L152.4,1122.8 L152.7,1122.4 L153.1,1122.0 L153.4,1121.6 L153.8,1121.2 L154.1,1120.8 L154.5,1120.4 L154.8,1120.0 L155.2,1119.6 L155.5,1119.3 L155.9,1118.9 L156.3,1118.5 L156.7,1118.2 L157.1,1117.9 L157.5,1117.5 L157.9,1117.2 L158.3,1116.9 L158.7,1116.6 L159.1,1116.2 L159.6,1116.0 L160.0,1115.7 L160.4,1115.4 L160.9,1115.1 L161.3,1114.9 L161.8,1114.6 L162.2,1114.4 L162.7,1114.1 L163.1,1113.9 L163.6,1113.7 L164.1,1113.4 L164.5,1113.2 L165.0,1113.0 L165.5,1112.8 L166.0,1112.6 L166.5,1112.4 L167.0,1112.2 L167.5,1112.0 L167.9,1111.9 L168.4,1111.7 L168.9,1111.6 L169.4,1111.4 L169.9,1111.3 L170.4,1111.2 L170.9,1111.1 L171.4,1111.0 L171.9,1110.9 L172.4,1110.8 L173.0,1110.7 L173.5,1110.6 L174.0,1110.5 L174.5,1110.4 L175.0,1110.3 L175.5,1110.2 L176.0,1110.2 L176.6,1110.1 L177.1,1110.0 L177.6,1110.0 L178.1,1109.9 L178.6,1109.8 L179.1,1109.8 L179.6,1109.7 L180.1,1109.6 L180.7,1109.6 L181.2,1109.5 L181.7,1109.5 L182.2,1109.4 L182.7,1109.4 L183.2,1109.3 L183.7,1109.2 L184.3,1109.2 L184.8,1109.1 L185.3,1109.1 L185.8,1109.1 L186.3,1109.0 L186.8,1109.0 L187.4,1108.9 L187.9,1108.9 L188.4,1108.9 L188.9,1108.8 L189.4,1108.8 L189.9,1108.8 L190.5,1108.7 L191.0,1108.7 L191.5,1108.7 L191.5,1108.5 L192.4,1108.3 L193.3,1108.2 L194.1,1108.1 L195.0,1108.0 L195.9,1107.9 L196.8,1107.9 L197.7,1107.9 L198.6,1107.9 L199.4,1107.9 L200.3,1107.9 L201.2,1107.9 L202.1,1107.9 L203.0,1107.9 L203.9,1107.9 L204.7,1107.9 L205.6,1107.9 L206.5,1107.9 L207.4,1107.9 L208.3,1107.9 L209.1,1107.8 L210.0,1107.8 L210.9,1107.8 L211.8,1107.8 L212.7,1107.7 L213.6,1107.7 L214.4,1107.7 L215.3,1107.6 L216.2,1107.6 L217.1,1107.5 L218.0,1107.5 L218.9,1107.4 L219.7,1107.4 L220.6,1107.3 L221.5,1107.2 L222.4,1107.2 L223.3,1107.1 L224.1,1107.0 L225.0,1107.0 L225.9,1106.9 L226.8,1106.8 L227.7,1106.7 L228.6,1106.6 L229.4,1106.5 L230.3,1106.4 L231.2,1106.3 L232.1,1106.2 L233.0,1106.1 L233.9,1106.0 L234.7,1105.9 L235.6,1105.8 L236.5,1105.7 L237.4,1105.6 L238.3,1105.4 L239.1,1105.3 L240.0,1105.2 L240.9,1105.0 L241.8,1104.9 L242.7,1104.7 L243.6,1104.6 L244.4,1104.5 L245.3,1104.3 L246.2,1104.1 L247.1,1104.0 L248.0,1103.8 L248.8,1103.7 L249.7,1103.5 L250.6,1103.3 L251.5,1103.1 L252.4,1103.0 L253.3,1102.8 L254.1,1102.6 L255.0,1102.4 L255.9,1102.2 L256.8,1102.0 L257.7,1101.8 L258.6,1101.6 L259.4,1101.4 L260.3,1101.2 L261.2,1101.0 L262.1,1100.8 L263.0,1100.5 L263.8,1100.3 L264.7,1100.1 L265.6,1099.9 L266.5,1099.6 L267.4,1099.4 L268.3,1099.2 L269.1,1098.9 L270.0,1098.7 L270.9,1098.4 L271.8,1098.2 L272.7,1097.9 L273.6,1097.6 L274.4,1097.4 L275.3,1097.1 L276.2,1096.8 L277.1,1096.6 L278.0,1096.3 L278.8,1096.0 L279.7,1095.7 L280.6,1095.4 L281.5,1095.1 L282.4,1094.8 L283.3,1094.5 L284.1,1094.2 L285.0,1093.9 L285.9,1093.6 L286.8,1093.3 L287.7,1093.0 L288.6,1092.7 L289.4,1092.3 L290.3,1092.0 L291.2,1091.7 L292.1,1091.3 L293.0,1091.0 L293.8,1090.7 L294.7,1090.3 L295.6,1090.0 L296.5,1089.6 L297.4,1089.3 L298.3,1088.9 L299.1,1088.5 L300.0,1088.2 L300.9,1087.8 L301.8,1087.4 L302.7,1087.1 L303.6,1086.7 L304.4,1086.3 L305.3,1085.9 L306.2,1085.5 L307.1,1085.1 L308.0,1084.7 L308.8,1084.3 L309.7,1083.9 L310.6,1083.5 L311.5,1083.1 L312.4,1082.7 L313.3,1082.3 L314.1,1081.9 L315.0,1081.4 L315.9,1081.0 L316.8,1080.6 L317.7,1080.1 L318.6,1079.7 L319.4,1079.3 L320.3,1078.8 L321.2,1078.4 L322.1,1077.9 L323.0,1077.5 L323.8,1077.0 L324.7,1076.5 L325.6,1076.1 L326.5,1075.6 L327.4,1075.1 L328.3,1074.6 L329.1,1074.2 L330.0,1073.7 L330.9,1073.2 L331.8,1072.7 L332.7,1072.2 L333.6,1071.7 L334.4,1071.2 L335.3,1070.7 L336.2,1070.2 L337.1,1069.7 L338.0,1069.2 L338.8,1068.7 L339.7,1068.1 L340.6,1067.6 L341.5,1067.1 L342.4,1066.6 L343.3,1066.0 L344.1,1065.5 L345.0,1065.0 L345.9,1064.4 L346.8,1063.9 L347.7,1063.3 L348.6,1062.8 L349.4,1062.2 L350.3,1061.6 L351.2,1061.1 L352.1,1060.5 L353.0,1059.9 L353.8,1059.4 L354.7,1058.8 L355.6,1058.2 L356.5,1057.6 L357.4,1057.0 L358.3,1056.5 L359.1,1055.9 L360.0,1055.3 L360.9,1054.7 L361.8,1054.1 L362.7,1053.5 L363.5,1052.9 L364.4,1052.2 L365.3,1051.6 L366.2,1051.0 L367.1,1050.4 L368.0,1049.8 L368.8,1049.1 L369.7,1048.5 L370.6,1047.9 L371.5,1047.2 L372.4,1046.6 L373.3,1045.9 L374.1,1045.3 L375.0,1044.6 L375.9,1044.0 L376.8,1043.3 L377.7,1042.7 L378.5,1042.0 L379.4,1041.3 L380.3,1040.7 L381.2,1040.0 L382.1,1039.3 L383.0,1038.7 L383.8,1038.0 L384.7,1037.3 L385.6,1036.6 L386.5,1035.9 L387.4,1035.2 L388.3,1034.5 L389.1,1033.8 L390.0,1033.1 L390.9,1032.4 L391.8,1031.7 L392.7,1031.0 L393.5,1030.3 L394.4,1029.6 L395.3,1028.8 L396.2,1028.1 L397.1,1027.4 L398.0,1026.7 L398.8,1025.9 L399.7,1025.2 L400.6,1024.5 L401.5,1023.7 L402.4,1023.0 L403.3,1022.2 L404.1,1021.5 L405.0,1020.7 L405.9,1020.0 L406.8,1019.2 L407.7,1018.4 L408.5,1017.7 L409.4,1016.9 L410.3,1016.1 L411.2,1015.4 L412.1,1014.6 L413.0,1013.8 L413.8,1013.0 L414.7,1012.2 L415.6,1011.5 L416.5,1010.7 L417.4,1009.9 L418.3,1009.1 L419.1,1008.3 L420.0,1007.5 L420.9,1006.7 L421.8,1005.9 L422.7,1005.1 L423.5,1004.2 L424.4,1003.4 L425.3,1002.6 L426.2,1001.8 L427.1,1001.0 L428.0,1000.1 L428.8,999.3 L429.7,998.5 L430.6,997.6 L431.5,996.8 L432.4,996.0 L433.3,995.1 L434.1,994.3 L435.0,993.4 L435.9,992.6 L436.8,991.7 L437.7,990.9 L438.5,990.0 L439.4,989.2 L440.3,988.3 L441.2,987.4 L442.1,986.6 L443.0,985.7 L443.8,984.8 L444.7,984.0 L445.6,983.1 L446.5,982.2 L447.4,981.3 L448.3,980.4 L449.1,979.5 L450.0,978.7 L450.9,977.8 L451.8,976.9 L452.7,976.0 L453.5,975.1 L454.4,974.2 L455.3,973.3 L456.2,972.4 L457.1,971.4 L458.0,970.5 L458.8,969.6 L459.7,968.7 L460.6,967.8 L461.5,966.9 L462.4,965.9 L463.2,965.0 L464.1,964.1 L465.0,963.2 L465.9,962.2 L466.8,961.3 L467.7,960.4 L468.5,959.4 L469.4,958.5 L470.3,957.5 L471.2,956.6 L472.1,955.6 L473.0,954.7 L473.8,953.7 L474.7,952.8 L475.6,951.8 L476.5,950.9 L477.4,949.9 L478.2,948.9 L479.1,948.0 L480.0,947.0 L480.9,946.0 L481.8,945.1 L482.7,944.1 L483.5,943.1 L484.4,942.1 L485.3,941.2 L486.2,940.2 L487.1,939.2 L488.0,938.2 L488.8,937.2 L489.7,936.2 L490.6,935.2 L491.5,934.2 L492.4,933.3 L493.2,932.3 L494.1,931.3 L495.0,930.3 L495.9,929.2 L496.8,928.2 L497.7,927.2 L498.5,926.2 L499.4,925.2 L500.3,924.2 L501.2,923.2 L502.1,922.2 L503.0,921.2 L503.8,920.1 L504.7,919.1 L505.6,918.1 L506.5,917.1 L507.4,916.0 L508.2,915.0 L509.1,914.0 L510.0,912.9 L510.9,911.9 L511.8,910.9 L512.7,909.8 L513.5,908.8 L514.4,907.7 L515.3,906.7 L516.2,905.7 L517.1,904.6 L518.0,903.6 L518.8,902.5 L519.7,901.5 L520.6,900.4 L521.5,899.3 L522.4,898.3 L523.2,897.2 L524.1,896.2 L525.0,895.1 L525.9,894.0 L526.8,893.0 L527.7,891.9 L528.5,890.9 L529.4,889.8 L530.3,888.7 L531.2,887.6 L532.1,886.6 L533.0,885.5 L533.8,884.4 L534.7,883.3 L535.6,882.3 L536.5,881.2 L537.4,880.1 L538.2,879.0 L539.1,877.9 L540.0,876.8 L540.9,875.7 L541.8,874.7 L542.7,873.6 L543.5,872.5 L544.4,871.4 L545.3,870.3 L546.2,869.2 L547.1,868.1 L548.0,867.0 L548.8,865.9 L549.7,864.8 L550.6,863.7 L551.5,862.6 L552.4,861.5 L553.2,860.4 L554.1,859.3 L555.0,858.1 L555.9,857.0 L556.8,855.9 L557.7,854.8 L558.5,853.7 L559.4,852.6 L560.3,851.5 L561.2,850.3 L562.1,849.2 L562.9,848.1 L563.8,847.0 L564.7,845.9 L565.6,844.7 L566.5,843.6 L567.4,842.5 L568.2,841.4 L569.1,840.2 L570.0,839.1 L570.9,838.0 L571.8,836.8 L572.7,835.7 L573.5,834.6 L574.4,833.4 L575.3,832.3 L576.2,831.2 L577.1,830.0 L577.9,828.9 L578.8,827.8 L579.7,826.6 L580.6,825.5 L581.5,824.3 L582.4,823.2 L583.2,822.0 L584.1,820.9 L585.0,819.8 L585.9,818.6 L586.8,817.5 L587.7,816.3 L588.5,815.2 L589.4,814.0 L590.3,812.9 L591.2,811.7 L592.1,810.6 L592.9,809.4 L593.8,808.2 L594.7,807.1 L595.6,805.9 L596.5,804.8 L597.4,803.6 L598.2,802.5 L599.1,801.3 L600.0,800.1 L600.9,799.0 L601.8,797.8 L602.7,796.7 L603.5,795.5 L604.4,794.3 L605.3,793.2 L606.2,792.0 L607.1,790.8 L607.9,789.7 L608.8,788.5 L609.7,787.3 L610.6,786.2 L611.5,785.0 L612.4,783.8 L613.2,782.7 L614.1,781.5 L615.0,780.3 L615.9,779.1 L616.8,778.0 L617.7,776.8 L618.5,775.6 L619.4,774.5 L620.3,773.3 L621.2,772.1 L622.1,770.9 L622.9,769.7 L623.8,768.6 L624.7,767.4 L625.6,766.2 L626.5,765.0 L627.4,763.9 L628.2,762.7 L629.1,761.5 L630.0,760.3 L630.9,759.1 L631.8,758.0 L632.7,756.8 L633.5,755.6 L634.4,754.4 L635.3,753.2 L636.2,752.0 L637.1,750.9 L637.9,749.7 L638.8,748.5 L639.7,747.3 L640.6,746.1 L641.5,744.9 L642.4,743.7 L643.2,742.6 L644.1,741.4 L645.0,740.2 L645.9,739.0 L646.8,737.8 L647.7,736.6 L648.5,735.4 L649.4,734.2 L650.3,733.0 L651.2,731.9 L652.1,730.7 L652.9,729.5 L653.8,728.3 L654.7,727.1 L655.6,725.9 L656.5,724.7 L657.4,723.5 L658.2,722.3 L659.1,721.1 L660.0,719.9 L660.9,718.7 L661.8,717.5 L662.7,716.4 L663.5,715.2 L664.4,714.0 L665.3,712.8 L666.2,711.6 L667.1,710.4 L667.9,709.2 L668.8,708.0 L669.7,706.8 L670.6,705.6 L671.5,704.4 L672.4,703.2 L673.2,702.0 L674.1,700.8 L675.0,699.6 L675.9,698.4 L676.8,697.2 L677.6,696.0 L678.5,694.8 L679.4,693.6 L680.3,692.4 L681.2,691.2 L682.1,690.0 L682.9,688.8 L683.8,687.6 L684.7,686.4 L685.6,685.2 L686.5,684.0 L687.4,682.9 L688.2,681.7 L689.1,680.5 L690.0,679.3 L690.9,678.1 L691.8,676.9 L692.6,675.7 L693.5,674.5 L694.4,673.3 L695.3,672.1 L696.2,670.9 L697.1,669.7 L697.9,668.5 L698.8,667.3 L699.7,666.1 L700.6,664.9 L701.5,663.7 L702.4,662.5 L703.2,661.3 L704.1,660.1 L705.0,658.9 L705.9,657.7 L706.8,656.5 L707.6,655.3 L708.5,654.1 L709.4,652.9 L710.3,651.7 L711.2,650.5 L712.1,649.3 L712.9,648.1 L713.8,646.9 L714.7,645.7 L715.6,644.5 L716.5,643.3 L717.4,642.1 L718.2,640.9 L719.1,639.7 L720.0,638.5" stroke="#0f0"/>
</g>
<rect x="143.30" y="675.20" width="272.20" height="272.20" fill="none" stroke="#000" stroke-width="2.3"/>
<path d="M234.03,947.40v-18.00M234.03,675.20v18.00M324.77,947.40v-18.00M324.77,675.20v18.00M188.67,947.40v-9.60M188.67,675.20v9.60M279.40,947.40v-9.60M279.40,675.20v9.60M370.13,947.40v-9.60M370.13,675.20v9.60M143.30,720.57h18.00M415.50,720.57h-18.00M143.30,924.72h9.60M415.50,924.72h-9.60M143.30,902.03h9.60M415.50,902.03h-9.60M143.30,879.35h9.60M415.50,879.35h-9.60M143.30,856.67h9.60M415.50,856.67h-9.60M143.30,833.98h9.60M415.50,833.98h-9.60M143.30,811.30h9.60M415.50,811.30h-9.60M143.30,788.62h9.60M415.50,788.62h-9.60M143.30,765.93h9.60M415.50,765.93h-9.60M143.30,743.25h9.60M415.50,743.25h-9.60M143.30,697.88h9.60M415.50,697.88h-9.60" stroke="#000" stroke-width="2.3" fill="none"/>
<path d="M143.5,946.2 L144.4,944.8 L145.3,946.4 L146.4,945.0 L147.4,946.6 L148.6,945.6 L149.8,946.8 L151.2,946.9 L151.2,946.9 L151.3,945.8 L151.3,944.8 L151.4,943.7 L151.5,942.6 L151.6,941.6 L151.6,940.5 L151.7,939.4 L151.8,938.4 L151.9,937.3 L151.9,936.3 L152.0,935.2 L152.1,934.1 L152.1,933.1 L152.2,932.0 L152.3,930.9 L152.3,929.9 L152.4,928.8 L152.5,927.7 L152.6,926.7 L152.6,925.6 L152.7,924.5 L152.7,923.5 L152.8,922.4 L152.9,921.4 L152.9,920.3 L153.0,919.2 L153.1,918.2 L153.1,917.1 L153.2,916.0 L153.3,915.0 L153.3,913.9 L153.4,912.8 L153.4,911.8 L153.5,910.7 L153.6,909.6 L153.6,908.6 L153.7,907.5 L153.7,906.4 L153.8,905.4 L153.8,904.3 L153.9,903.2 L153.9,902.2 L154.0,901.1 L154.0,900.1 L154.1,899.0 L154.1,897.9 L154.2,896.9 L154.2,895.8 L154.3,894.7 L154.3,893.7 L154.4,892.6 L154.4,891.5 L154.5,890.5 L154.5,889.4 L154.6,888.3 L154.6,887.3 L154.7,886.2 L154.7,885.1 L154.7,884.1 L154.8,883.0 L154.8,881.9 L154.9,880.9 L154.9,879.8 L154.9,878.7 L155.0,877.7 L155.0,876.6 L155.1,875.5 L155.1,874.5 L155.1,873.4 L155.2,872.4 L155.2,871.3 L155.2,870.2 L155.2,869.2 L155.3,868.1 L155.3,867.0 L155.3,866.0 L155.4,864.9 L155.4,863.8 L155.4,862.8 L155.5,861.7 L155.5,860.6 L155.5,859.6 L155.5,858.5 L155.6,857.4 L155.6,856.4 L155.6,855.3 L155.6,854.2 L155.7,853.2 L155.7,852.1 L155.7,851.0 L155.7,850.0 L155.8,848.9 L155.8,847.8 L155.8,846.8 L155.8,845.7 L155.9,844.6 L155.9,843.6 L155.9,842.5 L155.9,841.4 L156.0,840.4 L156.0,839.3 L156.0,838.2 L156.0,837.2 L156.1,836.1 L156.1,835.0 L156.1,834.0 L156.1,832.9 L156.2,831.8 L156.2,830.8 L156.2,829.7 L156.3,828.6 L156.3,827.6 L156.3,826.5 L156.3,825.4 L156.4,824.4 L156.4,823.3 L156.4,822.2 L156.5,821.2 L156.5,820.1 L156.5,819.0 L156.6,818.0 L156.6,816.9 L156.6,815.8 L156.7,814.8 L156.7,813.7 L156.7,812.6 L156.8,811.6 L156.8,810.5 L156.8,809.4 L156.9,808.4 L156.9,807.3 L156.9,806.2 L157.0,805.2 L157.0,804.1 L157.0,803.0 L157.1,802.0 L157.1,800.9 L157.2,799.9 L157.2,798.8 L157.2,797.7 L157.3,796.7 L157.3,795.6 L157.4,794.5 L157.4,793.5 L157.4,792.4 L157.5,791.3 L157.5,790.3 L157.6,789.2 L157.6,788.1 L157.7,787.1 L157.7,786.0 L157.8,784.9 L157.8,783.9 L157.9,782.8 L157.9,781.7 L158.0,780.7 L158.0,779.6 L158.1,778.5 L158.1,777.5 L158.2,776.4 L158.3,775.3 L158.3,774.3 L158.4,773.2 L158.4,772.1 L158.5,771.1 L158.5,770.0 L158.6,769.0 L158.6,767.9 L158.7,766.8 L158.8,765.8 L158.8,764.7 L158.9,763.6 L158.9,762.6 L159.0,761.5 L159.1,760.4 L159.1,759.4 L159.2,758.3 L159.2,757.2 L159.3,756.2 L159.4,755.1 L159.4,754.0 L159.5,753.0 L159.5,751.9 L159.6,750.9 L159.7,749.8 L159.7,748.7 L159.8,747.7 L159.9,746.6 L159.9,745.5 L160.0,744.5 L160.1,743.4 L160.2,742.3 L160.2,741.3 L160.3,740.2 L160.4,739.1 L160.5,738.1 L160.5,737.0 L160.6,736.0 L160.7,734.9 L160.8,733.8 L160.9,732.8 L160.9,731.7 L161.0,730.6 L161.1,729.6 L161.2,728.5 L161.3,727.4 L161.4,726.4 L161.5,725.3 L161.6,724.3 L161.7,723.2 L161.8,722.1 L161.8,721.1 L161.9,720.0 L162.0,718.9 L162.1,717.9 L162.2,716.8 L162.3,715.8 L162.4,714.7 L162.5,713.6 L162.6,712.6 L162.7,711.5 L162.8,710.4 L163.0,709.4 L163.1,708.3 L163.2,707.3 L163.4,706.2 L163.5,705.2 L163.7,704.1 L163.8,703.0 L164.0,701.9 L164.2,700.8 L164.4,699.8 L164.7,698.8 L165.1,697.9 L165.9,696.9 L166.6,696.7 L167.2,697.6 L167.8,698.6 L168.2,699.6 L168.6,700.6 L168.9,701.6 L169.2,702.6 L169.5,703.7 L169.8,704.7 L170.1,705.7 L170.4,706.8 L170.7,707.8 L171.0,708.8 L171.2,709.8 L171.5,710.9 L171.8,711.9 L172.0,712.9 L172.3,714.0 L172.6,715.0 L172.8,716.0 L173.1,717.1 L173.4,718.1 L173.7,719.1 L174.0,720.2 L174.3,721.2 L174.6,722.2 L174.9,723.2 L175.2,724.3 L175.5,725.3 L175.7,726.3 L176.0,727.3 L176.2,728.4 L176.4,729.4 L176.6,730.5 L176.8,731.5 L177.0,732.6 L177.3,733.6 L177.5,734.7 L177.8,735.7 L178.0,736.7 L178.3,737.7 L178.6,738.8 L179.0,739.8 L179.3,740.8 L179.6,741.8 L180.0,742.8 L180.4,743.8 L180.7,744.8 L181.2,745.8 L181.6,746.8 L182.0,747.7 L182.5,748.7 L182.9,749.7 L183.4,750.7 L183.8,751.6 L184.2,752.6 L184.7,753.6 L185.1,754.6 L185.5,755.5 L186.0,756.5 L186.4,757.5 L186.8,758.5 L187.3,759.4 L187.7,760.4 L187.7,760.4 L188.3,761.7 L188.8,763.0 L189.4,764.2 L190.0,765.5 L190.5,766.8 L191.1,768.0 L191.7,769.3 L192.2,770.5 L192.8,771.6 L193.4,772.8 L194.0,773.9 L194.5,775.0 L195.1,776.1 L195.7,777.3 L196.2,778.5 L196.8,779.7 L197.4,781.0 L197.9,782.3 L198.5,783.6 L199.1,784.8 L199.6,786.1 L200.2,787.4 L200.8,788.6 L201.3,789.8 L201.9,791.0 L202.5,792.2 L203.1,793.4 L203.6,794.6 L204.2,795.7 L204.8,796.9 L205.3,798.1 L205.9,799.2 L206.5,800.4 L207.0,801.5 L207.6,802.6 L208.2,803.7 L208.7,804.8 L209.3,805.9 L209.9,807.0 L210.4,808.1 L211.0,809.2 L211.6,810.3 L212.2,811.3 L212.7,812.4 L213.3,813.4 L213.9,814.4 L214.4,815.5 L215.0,816.5 L215.6,817.5 L216.1,818.5 L216.7,819.5 L217.3,820.5 L217.8,821.4 L218.4,822.4 L219.0,823.4 L219.5,824.3 L220.1,825.3 L220.7,826.2 L221.3,827.1 L221.8,828.1 L222.4,829.0 L223.0,829.9 L223.5,830.8 L224.1,831.7 L224.7,832.6 L225.2,833.5 L225.8,834.3 L226.4,835.2 L226.9,836.1 L227.5,836.9 L228.1,837.8 L228.6,838.6 L229.2,839.5 L229.8,840.3 L230.4,841.1 L230.9,841.9 L231.5,842.7 L232.1,843.5 L232.6,844.3 L233.2,845.1 L233.8,845.9 L234.3,846.7 L234.9,847.5 L235.5,848.2 L236.0,849.0 L236.6,849.7 L237.2,850.5 L237.7,851.2 L238.3,852.0 L238.9,852.7 L239.4,853.4 L240.0,854.1 L240.6,854.8 L241.2,855.6 L241.7,856.3 L242.3,857.0 L242.9,857.7 L243.4,858.3 L244.0,859.0 L244.6,859.7 L245.1,860.4 L245.7,861.0 L246.3,861.7 L246.8,862.4 L247.4,863.0 L248.0,863.7 L248.5,864.3 L249.1,864.9 L249.7,865.6 L250.3,866.2 L250.8,866.8 L251.4,867.4 L252.0,868.0 L252.5,868.7 L253.1,869.3 L253.7,869.9 L254.2,870.4 L254.8,871.0 L255.4,871.6 L255.9,872.2 L256.5,872.8 L257.1,873.4 L257.6,873.9 L258.2,874.5 L258.8,875.1 L259.4,875.6 L259.9,876.2 L260.5,876.7 L261.1,877.3 L261.6,877.8 L262.2,878.3 L262.8,878.9 L263.3,879.4 L263.9,879.9 L264.5,880.4 L265.0,881.0 L265.6,881.5 L266.2,882.0 L266.7,882.5 L267.3,883.0 L267.9,883.5 L268.5,884.0 L269.0,884.5 L269.6,885.0 L270.2,885.4 L270.7,885.9 L271.3,886.4 L271.9,886.9 L272.4,887.3 L273.0,887.8 L273.6,888.3 L274.1,888.7 L274.7,889.2 L275.3,889.6 L275.8,890.1 L276.4,890.5 L277.0,891.0 L277.6,891.4 L278.1,891.9 L278.7,892.3 L279.3,892.7 L279.8,893.1 L280.4,893.6 L281.0,894.0 L281.5,894.4 L282.1,894.8 L282.7,895.2 L283.2,895.7 L283.8,896.1 L284.4,896.5 L284.9,896.9 L285.5,897.3 L286.1,897.7 L286.6,898.0 L287.2,898.4 L287.8,898.8 L288.4,899.2 L288.9,899.6 L289.5,900.0 L290.1,900.3 L290.6,900.7 L291.2,901.1 L291.8,901.5 L292.3,901.8 L292.9,902.2 L293.5,902.5 L294.0,902.9 L294.6,903.3 L295.2,903.6 L295.7,904.0 L296.3,904.3 L296.9,904.6 L297.5,905.0 L298.0,905.3 L298.6,905.7 L299.2,906.0 L299.7,906.3 L300.3,906.7 L300.9,907.0 L301.4,907.3 L302.0,907.6 L302.6,907.9 L303.1,908.3 L303.7,908.6 L304.3,908.9 L304.8,909.2 L305.4,909.5 L306.0,909.8 L306.6,910.1 L307.1,910.4 L307.7,910.7 L308.3,911.0 L308.8,911.3 L309.4,911.6 L310.0,911.9 L310.5,912.2 L311.1,912.5 L311.7,912.8 L312.2,913.0 L312.8,913.3 L313.4,913.6 L313.9,913.9 L314.5,914.1 L315.1,914.4 L315.7,914.7 L316.2,915.0 L316.8,915.2 L317.4,915.5 L317.9,915.7 L318.5,916.0 L319.1,916.3 L319.6,916.5 L320.2,916.8 L320.8,917.0 L321.3,917.3 L321.9,917.5 L322.5,917.8 L323.0,918.0 L323.6,918.3 L324.2,918.5 L324.7,918.7 L325.3,919.0 L325.9,919.2 L326.5,919.5 L327.0,919.7 L327.6,919.9 L328.2,920.1 L328.7,920.4 L329.3,920.6 L329.9,920.8 L330.4,921.1 L331.0,921.3 L331.6,921.5 L332.1,921.7 L332.7,921.9 L333.3,922.1 L333.8,922.4 L334.4,922.6 L335.0,922.8 L335.6,923.0 L336.1,923.2 L336.7,923.4 L337.3,923.6 L337.8,923.8 L338.4,924.0 L339.0,924.2 L339.5,924.4 L340.1,924.6 L340.7,924.8 L341.2,925.0 L341.8,925.2 L342.4,925.4 L342.9,925.6 L343.5,925.8 L344.1,926.0 L344.7,926.2 L345.2,926.4 L345.8,926.5 L346.4,926.7 L346.9,926.9 L347.5,927.1 L348.1,927.3 L348.6,927.4 L349.2,927.6 L349.8,927.8 L350.3,928.0 L350.9,928.2 L351.5,928.3 L352.0,928.5 L352.6,928.7 L353.2,928.8 L353.8,929.0 L354.3,929.2 L354.9,929.3 L355.5,929.5 L356.0,929.7 L356.6,929.8 L357.2,930.0 L357.7,930.2 L358.3,930.3 L358.9,930.5 L359.4,930.7 L360.0,930.8 L360.6,931.0 L361.1,931.1 L361.7,931.3 L362.3,931.4 L362.9,931.6 L363.4,931.7 L364.0,931.9 L364.6,932.0 L365.1,932.2 L365.7,932.3 L366.3,932.5 L366.8,932.6 L367.4,932.8 L368.0,932.9 L368.5,933.1 L369.1,933.2 L369.7,933.4 L370.2,933.5 L370.8,933.7 L371.4,933.8 L371.9,933.9 L372.5,934.1 L373.1,934.2 L373.7,934.4 L374.2,934.5 L374.8,934.6 L375.4,934.8 L375.9,934.9 L376.5,935.0 L377.1,935.2 L377.6,935.3 L378.2,935.5 L378.8,935.6 L379.3,935.7 L379.9,935.9 L380.5,936.0 L381.0,936.1 L381.6,936.2 L382.2,936.4 L382.8,936.5 L383.3,936.6 L383.9,936.8 L384.5,936.9 L385.0,937.0 L385.6,937.1 L386.2,937.3 L386.7,937.4 L387.3,937.5 L387.9,937.6 L388.4,937.8 L389.0,937.9 L389.6,938.0 L390.1,938.1 L390.7,938.3 L391.3,938.4 L391.9,938.5 L392.4,938.6 L393.0,938.7 L393.6,938.9 L394.1,939.0 L394.7,939.1 L395.3,939.2 L395.8,939.3 L396.4,939.5 L397.0,939.6 L397.5,939.7 L398.1,939.8 L398.7,939.9 L399.2,940.0 L399.8,940.2 L400.4,940.3 L401.0,940.4 L401.5,940.5 L402.1,940.6 L402.7,940.7 L403.2,940.9 L403.8,941.0 L404.4,941.1 L404.9,941.2 L405.5,941.3 L406.1,941.4 L406.6,941.5 L407.2,941.6 L407.8,941.8 L408.3,941.9 L408.9,942.0 L409.5,942.1 L410.1,942.2 L410.6,942.3 L411.2,942.4 L411.8,942.5 L412.3,942.7 L412.9,942.8 L413.5,942.9 L414.0,943.0 L414.6,943.1" fill="none" stroke="#ff7f00" stroke-width="3.4" stroke-linejoin="round" stroke-linecap="round"/>
<text transform="translate(74.5,539.0) scale(1,1.03)" text-anchor="end">0</text>
<text transform="translate(74.5,368.8) scale(1,1.03)" text-anchor="end">5</text>
<text transform="translate(74.5,198.6) scale(1,1.03)" text-anchor="end">10</text>
<text transform="translate(74.5,28.4) scale(1,1.03)" text-anchor="end">15</text>
<text transform="translate(81.0,565.2) scale(1,1.03)" text-anchor="middle">0</text>
<text transform="translate(308.1,565.2) scale(1,1.03)" text-anchor="middle">10</text>
<text transform="translate(535.1,565.2) scale(1,1.03)" text-anchor="middle">20</text>
<text transform="translate(762.2,565.2) scale(1,1.03)" text-anchor="middle">30</text>
<text transform="translate(421.4,596.0) scale(1,1)" text-anchor="middle"><tspan font-style="italic">T</tspan> (K)</text>
<text transform="translate(30,272.6) rotate(-90)" text-anchor="middle"><tspan font-style="italic">S</tspan> (J/molK)</text>
<text transform="translate(335.5,141.6) scale(1,1)" text-anchor="start" fill="#00f">Exp. (mag+lat)</text>
<text transform="translate(530.0,425.7) scale(1,1)" text-anchor="start" fill="#f00">TMRG</text>
<text transform="translate(80.2,1122.3) scale(1,1.03)" text-anchor="end">0</text>
<text transform="translate(80.2,1029.5) scale(1,1.03)" text-anchor="end">2</text>
<text transform="translate(80.2,936.7) scale(1,1.03)" text-anchor="end">4</text>
<text transform="translate(80.2,844.0) scale(1,1.03)" text-anchor="end">6</text>
<text transform="translate(80.2,751.2) scale(1,1.03)" text-anchor="end">8</text>
<text transform="translate(80.2,658.4) scale(1,1.03)" text-anchor="end">10</text>
<text transform="translate(86.7,1195.2) scale(1,1.03)" text-anchor="middle">0</text>
<text transform="translate(313.7,1195.2) scale(1,1.03)" text-anchor="middle">10</text>
<text transform="translate(540.8,1195.2) scale(1,1.03)" text-anchor="middle">20</text>
<text transform="translate(767.8,1195.2) scale(1,1.03)" text-anchor="middle">30</text>
<text transform="translate(427.0,1226.0) scale(1,1)" text-anchor="middle"><tspan font-style="italic">T</tspan> (K)</text>
<text transform="translate(35,903) rotate(-90)" text-anchor="middle"><tspan font-style="italic">S</tspan> (J/molK)</text>
<text transform="translate(473.0,772.3) scale(1,1)" text-anchor="start" fill="#0f0">extracted</text>
<text transform="translate(545.5,964.0) scale(1,1)" text-anchor="start" fill="#00f">model (lat)</text>
<text transform="translate(137.0,956.0) scale(1,1.03)" text-anchor="end" font-size="32">0</text>
<text transform="translate(137.0,729.2) scale(1,1.03)" text-anchor="end" font-size="32">1</text>
<text transform="translate(143.6,978.2) scale(1,1.03)" text-anchor="middle" font-size="32">0</text>
<text transform="translate(234.3,978.2) scale(1,1.03)" text-anchor="middle" font-size="32">100</text>
<text transform="translate(325.1,978.2) scale(1,1.03)" text-anchor="middle" font-size="32">200</text>
<text transform="translate(415.8,978.2) scale(1,1.03)" text-anchor="middle" font-size="32">300</text>
<text transform="translate(131.7,823) rotate(-90)" text-anchor="middle" font-size="32">difference</text>
</svg>
</body></html>
